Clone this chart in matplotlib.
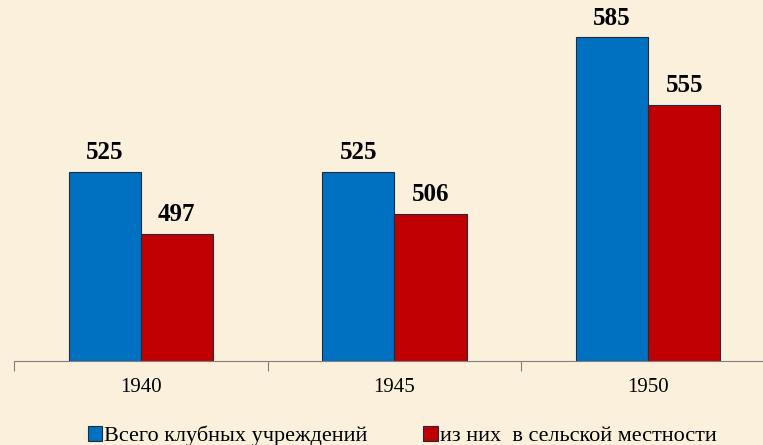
import matplotlib.pyplot as plt
import numpy as np

years = ["1940", "1945", "1950"]
total_clubs = [525, 525, 585]
rural_clubs = [497, 506, 555]
series_names = ["Всего клубных учреждений", "из них  в сельской местности"]

bgColor = "#fbf0dc"
blueColor = "#0070c0"
redColor = "#c00000"
edgeColor = "#1f2a44"

plt.rcParams['font.family'] = ['Liberation Serif', 'DejaVu Serif']

fig = plt.figure(figsize=(7.63, 4.45), dpi=100)
fig.patch.set_facecolor(bgColor)
# axes runs off the right and top edge, like the source slide
ax = fig.add_axes([14 / 763, 84 / 445, 761 / 763, 361 / 445])
ax.set_facecolor(bgColor)

x = np.arange(len(years))
w = 0.284
b1 = ax.bar(x - w / 2, total_clubs, w, color=blueColor,
            edgecolor=edgeColor, linewidth=0.8, label=series_names[0])
b2 = ax.bar(x + w / 2, rural_clubs, w, color=redColor,
            edgecolor=edgeColor, linewidth=0.8, label=series_names[1])

for bars in (b1, b2):
    for r in bars:
        h = r.get_height()
        ax.text(r.get_x() + r.get_width() / 2, h + 3.5, str(h),
                ha='center', va='bottom', fontsize=18, fontweight='bold')

ax.set_ylim(440.4, 601.7)
ax.set_xlim(-0.5, 2.5)

for s in ['top', 'right', 'left']:
    ax.spines[s].set_visible(False)
ax.spines['bottom'].set_color('#808080')
ax.spines['bottom'].set_linewidth(0.8)
ax.set_yticks([])

ax.set_xticks(x)
ax.set_xticklabels(years, fontsize=15)
ax.tick_params(axis='x', length=0, pad=12)
ax.set_xticks([-0.5, 0.5, 1.5, 2.5], minor=True)
ax.tick_params(axis='x', which='minor', length=7, color='#808080', width=0.8)

leg = fig.legend(handles=[b1, b2], labels=series_names, loc='lower center',
                 bbox_to_anchor=(0.527, -0.047), ncol=2, frameon=False,
                 fontsize=16, handlelength=0.65, handleheight=0.65,
                 handletextpad=0.1, columnspacing=2.5)

fig.savefig("out.png", dpi=100, facecolor=bgColor)
